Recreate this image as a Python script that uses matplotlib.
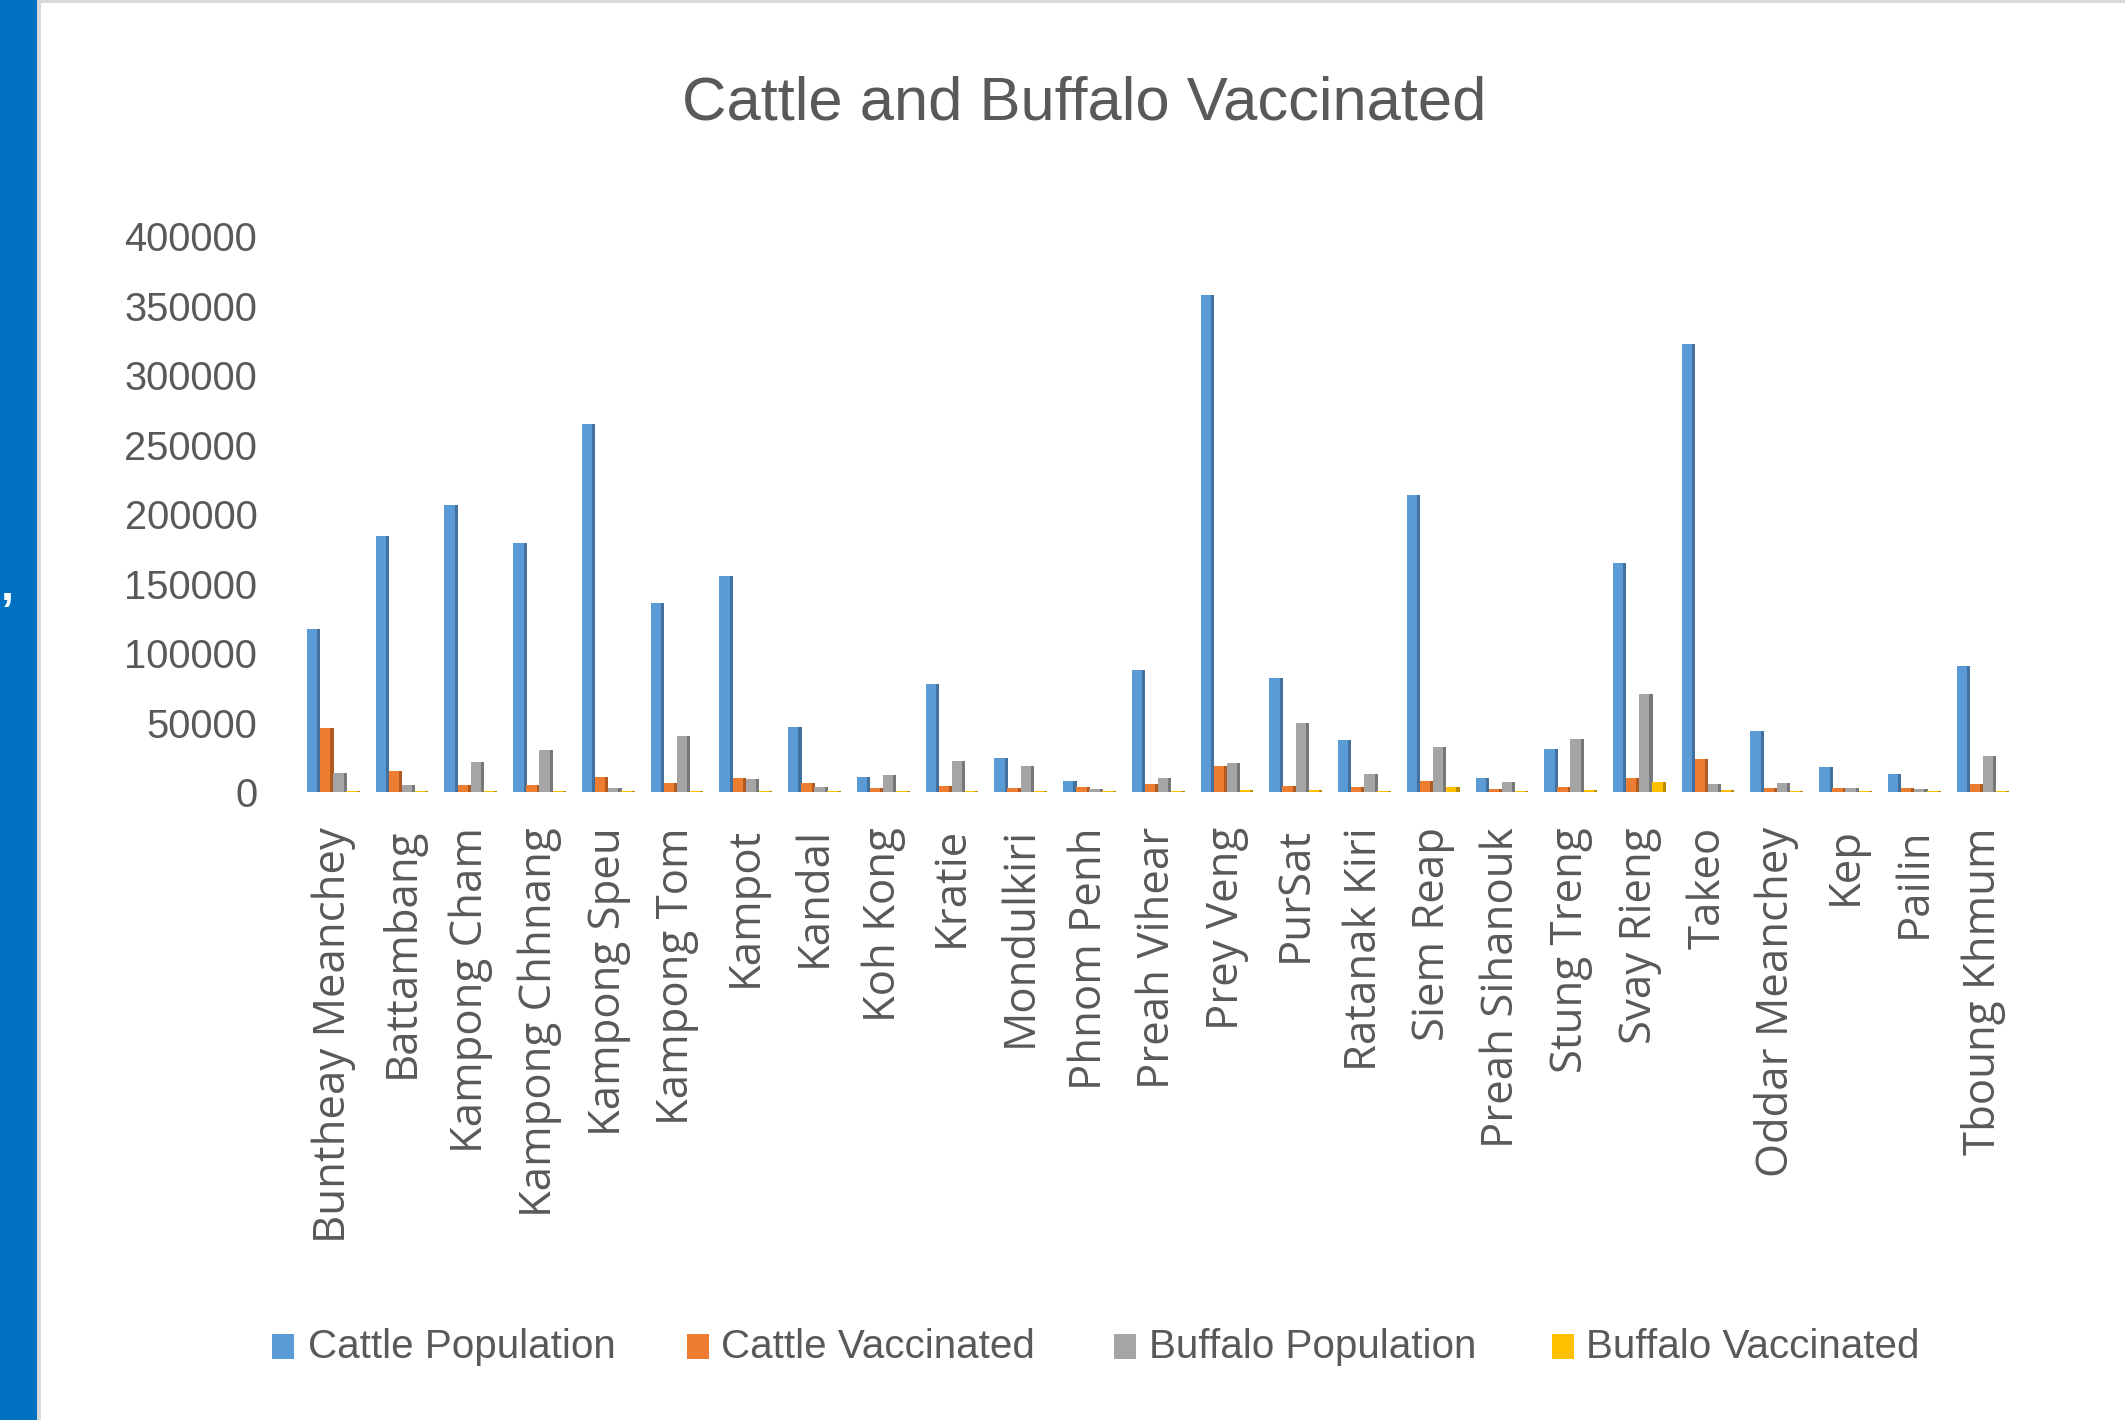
import matplotlib
matplotlib.use("Agg")
import matplotlib.pyplot as plt
from matplotlib import font_manager as fm
from matplotlib.patches import Rectangle
import numpy as np

categories = ["Buntheay Meanchey", "Battambang", "Kampong Cham", "Kampong Chhnang",
              "Kampong Speu", "Kampong Tom", "Kampot", "Kandal", "Koh Kong", "Kratie",
              "Mondulkiri", "Phnom Penh", "Preah Vihear", "Prey Veng", "PurSat",
              "Ratanak Kiri", "Siem Reap", "Preah Sihanouk", "Stung Treng", "Svay Rieng",
              "Takeo", "Oddar Meanchey", "Kep", "Pailin", "Tboung Khmum"]

cattle_pop = [117500, 184500, 206500, 179100, 265000, 136400, 155600, 47000, 10900, 77700,
              24800, 8400, 88000, 357800, 82500, 37900, 214000, 10100, 31100, 165200,
              322300, 43900, 18100, 13300, 90900]
cattle_vac = [46300, 15000, 5300, 5300, 10900, 6500, 10100, 6500, 2900, 4800,
              2900, 4100, 6000, 18600, 4800, 4100, 8400, 2400, 3600, 10300,
              24100, 2900, 3400, 3400, 5800]
buffalo_pop = [13700, 5300, 21700, 30600, 3400, 40300, 9400, 3600, 12500, 22200,
               18600, 2400, 10600, 21000, 50000, 13000, 32300, 7200, 38300, 70400,
               6000, 6500, 2900, 2400, 26300]
buffalo_vac = [1200, 1200, 1000, 1000, 1000, 1200, 1000, 1000, 900, 1000,
               1000, 900, 1000, 1300, 1800, 1000, 3800, 900, 1300, 7200,
               1300, 1000, 900, 800, 1200]

series_names = ["Cattle Population", "Cattle Vaccinated", "Buffalo Population", "Buffalo Vaccinated"]
yticks = [0, 50000, 100000, 150000, 200000, 250000, 300000, 350000, 400000]

face_colors = ["#5B9BD5", "#ED7D31", "#A5A5A5", "#FFC000"]
side_colors = ["#41719C", "#AE5A21", "#787878", "#BC8C00"]
text_color = "#595959"

names = {f.name for f in fm.fontManager.ttflist}
if "Liberation Sans Narrow" in names:
    NARROW, nscale = "Liberation Sans Narrow", 1.0
else:
    NARROW, nscale = "Liberation Sans", 0.82
WIDE = "Open Sans" if "Open Sans" in names else "DejaVu Sans"

W, H = 2125, 1420
fig = plt.figure(figsize=(W / 100, H / 100), dpi=100)
fig.patch.set_facecolor("white")

# left blue strip and frame lines
fig.patches.append(Rectangle((0, 0), 37 / W, 1, transform=fig.transFigure,
                             facecolor="#0070C0", edgecolor="none", zorder=0))
fig.patches.append(Rectangle((37 / W, 0), 4 / W, 1, transform=fig.transFigure,
                             facecolor="#D9D9D9", edgecolor="none", zorder=0))
fig.patches.append(Rectangle((41 / W, 1 - 3 / H), 1, 3 / H, transform=fig.transFigure,
                             facecolor="#D9D9D9", edgecolor="none", zorder=0))
fig.text(1 / W, 1 - 600 / H, ",", color="white", fontsize=34, fontweight="bold",
         family="Liberation Sans", ha="left", va="baseline")

left, right = 299 / W, 2017.4 / W
bottom, top = 1 - 792.3 / H, 1 - 236.3 / H
ax = fig.add_axes([left, bottom, right - left, top - bottom])

x = np.arange(len(categories))
data = [cattle_pop, cattle_vac, buffalo_pop, buffalo_vac]
offsets = [-0.286, -0.095, 0.095, 0.286]
face_w, side_w = 0.15, 0.045
for vals, off, fc, sc in zip(data, offsets, face_colors, side_colors):
    vals = np.asarray(vals)
    ax.bar(x + off - side_w / 2, vals, width=face_w, color=fc, edgecolor="none", zorder=2)
    ax.bar(x + off + face_w / 2, vals, width=side_w,
           color=sc, edgecolor="none", zorder=2)

ax.set_xlim(-0.5, len(categories) - 0.5)
ax.set_ylim(0, 400000)
ax.set_yticks(yticks)
ax.set_yticklabels([str(v) for v in yticks], fontsize=35 * nscale,
                   family=NARROW, color=text_color)
ax.set_xticks(x)
ax.set_xticklabels(categories, rotation=90, fontsize=31.5, family=WIDE, color=text_color,
                   ha="center", va="top")
ax.tick_params(axis="y", length=0, pad=30)
ax.tick_params(axis="x", length=0, pad=25)
for s in ax.spines.values():
    s.set_visible(False)
ax.set_facecolor("none")

# title
fig.text(1084 / W, 1 - 120 / H, "Cattle and Buffalo Vaccinated", fontsize=54 * nscale,
         family=NARROW, color=text_color, ha="center", va="baseline")

# legend
marker_x = [272, 687, 1114, 1552]
text_x = [308, 721, 1149, 1586]
for mx, tx, fc, name in zip(marker_x, text_x, face_colors, series_names):
    fig.patches.append(Rectangle((mx / W, 1 - 1359 / H), 22 / W, 25 / H,
                                 transform=fig.transFigure, facecolor=fc, edgecolor="none"))
    fig.text(tx / W, 1 - 1347 / H, name, fontsize=35.5 * nscale, family=NARROW,
             color=text_color, ha="left", va="center")

fig.savefig("out.png", dpi=100, facecolor="white")
